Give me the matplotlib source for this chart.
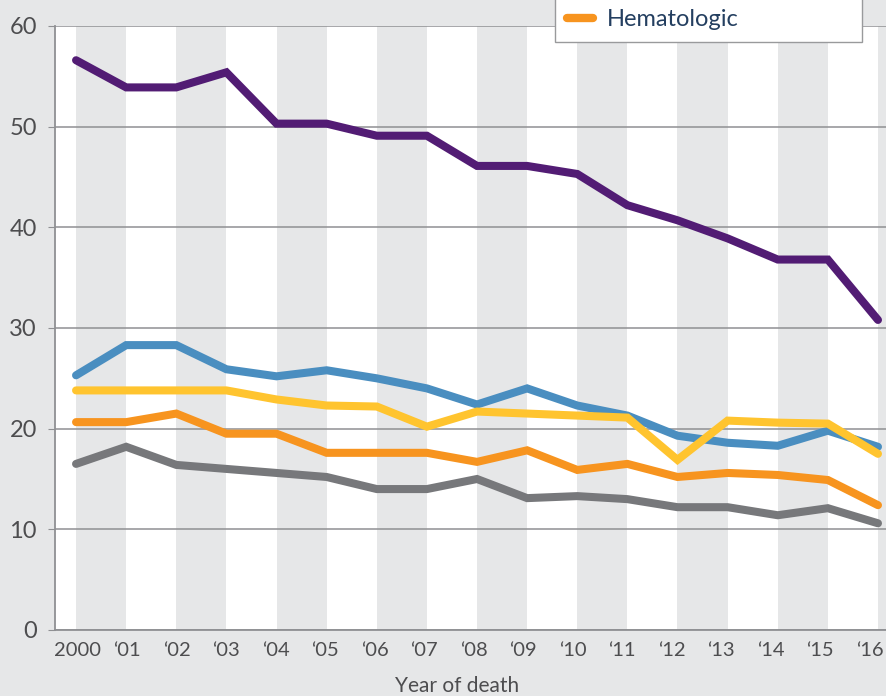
import matplotlib.pyplot as plt
from matplotlib.lines import Line2D
from matplotlib.transforms import ScaledTranslation

# -------------------------------
# DATA
# -------------------------------
years = list(range(2000, 2017))
tick_labels = ["2000", "\u201801", "\u201802", "\u201803", "\u201804", "\u201805", "\u201806",
               "\u201807", "\u201808", "\u201809", "\u201810", "\u201811", "\u201812",
               "\u201813", "\u201814", "\u201815", "\u201816"]

purple = [56.6, 53.9, 53.9, 55.4, 50.3, 50.3, 49.1, 49.1, 46.1, 46.1, 45.3,
          42.2, 40.7, 38.9, 36.8, 36.8, 30.8]
blue = [25.3, 28.3, 28.3, 25.9, 25.2, 25.8, 25.0, 24.0, 22.4, 24.0, 22.3,
        21.3, 19.3, 18.6, 18.3, 19.8, 18.2]
yellow = [23.8, 23.8, 23.8, 23.8, 22.9, 22.3, 22.2, 20.2, 21.7, 21.5, 21.3,
          21.1, 16.9, 20.8, 20.6, 20.5, 17.5]
hematologic = [20.65, 20.65, 21.5, 19.5, 19.5, 17.6, 17.6, 17.6, 16.7, 17.85, 15.9,
               16.5, 15.2, 15.6, 15.4, 14.9, 12.4]
grey = [16.5, 18.2, 16.4, 16.0, 15.6, 15.2, 14.0, 14.0, 15.0, 13.1, 13.3,
        13.0, 12.2, 12.2, 11.4, 12.1, 10.6]

legend_label = "Hematologic"
x_label = "Year of death"

# -------------------------------
# STYLE
# -------------------------------
BG = "#e6e7e8"
GRID = "#8f9093"
TXT = "#4d4d4f"
NAVY = "#243f60"
colors = {"purple": "#521c74", "blue": "#4a8ec0", "yellow": "#ffc42f",
          "orange": "#f7941f", "grey": "#77787b"}

plt.rcParams['font.family'] = ['Lato', 'DejaVu Sans']

fig = plt.figure(figsize=(8.86, 6.96), dpi=100, facecolor=BG)
ax = fig.add_axes([55 / 886, 1 - 630 / 696, 1 - 55 / 886, (630 - 26) / 696])
ax.set_facecolor("white")

# alternating grey bands
for y in range(years[0], years[-1] + 1, 2):
    ax.axvspan(y, y + 1, color=BG, lw=0, zorder=0)

series = [(purple, "purple"), (blue, "blue"), (yellow, "yellow"),
          (hematologic, "orange"), (grey, "grey")]
for vals, c in series:
    ax.plot(years, vals, color=colors[c], lw=5.8, solid_capstyle="round",
            solid_joinstyle="miter", zorder=3)

ax.set_xlim(1999.58, 2016.16)
ax.set_ylim(0, 60)
ax.set_yticks(range(0, 61, 10))
ax.set_xticks(years)
ax.set_xticklabels(tick_labels, fontsize=14.5)
ax.yaxis.grid(True, color=GRID, lw=1.1, zorder=1)
ax.tick_params(axis="y", length=5, color=GRID, labelsize=17, labelcolor=TXT, pad=8)
ax.tick_params(axis="x", length=0, labelcolor=TXT, pad=9)

# labels in the reference sit on a slightly tighter pitch than the data points
for i, lab in enumerate(ax.get_xticklabels()):
    dx = 1.5 - 0.63 * i
    lab.set_transform(lab.get_transform() + ScaledTranslation(dx / 100, 0, fig.dpi_scale_trans))

ax.set_xlabel(x_label, fontsize=15, color=TXT)
ax.xaxis.set_label_coords((457 - 55) / 831, -46 / 604)

for s in ["top", "right"]:
    ax.spines[s].set_visible(False)
ax.spines["left"].set_color(GRID)
ax.spines["left"].set_linewidth(1.3)
ax.spines["bottom"].set_color(GRID)
ax.spines["bottom"].set_linewidth(1.3)

# legend (cut off by the top edge of the picture)
handles = [Line2D([], [], color="none"),
           Line2D([], [], color=colors["orange"], lw=6, solid_capstyle="round")]
leg = fig.legend(handles, [" ", legend_label], loc="lower left",
                 bbox_to_anchor=(555 / 886, 654 / 696, 307 / 886, 0), mode="expand",
                 fontsize=17, frameon=True, fancybox=False, framealpha=1,
                 edgecolor="#999a9c", facecolor="white", handlelength=1.1,
                 handletextpad=0.6, borderpad=0.5, labelspacing=0.6,
                 borderaxespad=0)
leg.get_frame().set_linewidth(1.0)
for t in leg.get_texts():
    t.set_color(NAVY)

fig.savefig("out.png", dpi=100, facecolor=BG)
